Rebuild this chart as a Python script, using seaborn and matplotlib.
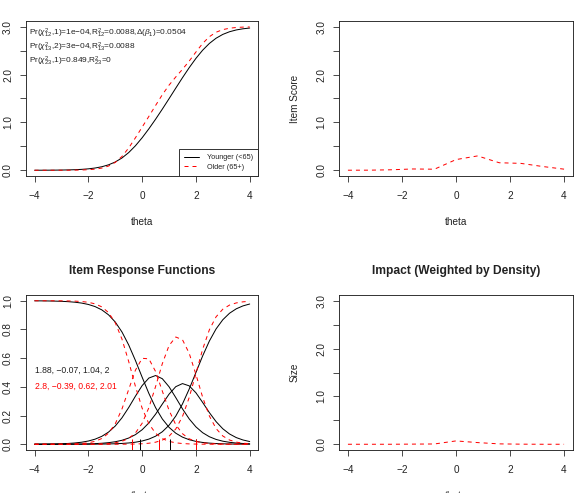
import numpy as np
import pandas as pd
import seaborn as sns
import matplotlib
matplotlib.use("Agg")
import matplotlib.pyplot as plt

# ---------------- data ----------------
theta = [-4, -3.75, -3.5, -3.25, -3, -2.75, -2.5, -2.25, -2, -1.75, -1.5, -1.25,
         -1, -0.75, -0.5, -0.25, 0, 0.25, 0.5, 0.75, 1, 1.25, 1.5, 1.75, 2,
         2.25, 2.5, 2.75, 3, 3.25, 3.5, 3.75, 4]

# cumulative category probabilities P(X >= k), Younger (<65)
young_ge1 = [0.00062, 0.00099, 0.00158, 0.00253, 0.00404, 0.00645, 0.01027, 0.01633,
             0.02588, 0.04078, 0.06369, 0.09815, 0.14831, 0.21789, 0.30831, 0.41629,
             0.53285, 0.64602, 0.7449, 0.8237, 0.88201, 0.92284, 0.95034, 0.96837,
             0.97999, 0.9874, 0.99209, 0.99504, 0.99689, 0.99806, 0.99878, 0.99924, 0.99952]
young_ge2 = [0.00008, 0.00012, 0.0002, 0.00031, 0.0005, 0.00081, 0.00129, 0.00206,
             0.00329, 0.00525, 0.00837, 0.01332, 0.02114, 0.03341, 0.0524, 0.08129,
             0.12401, 0.18468, 0.26595, 0.36698, 0.48121, 0.59746, 0.70366, 0.79164,
             0.85877, 0.90677, 0.93962, 0.96139, 0.97551, 0.98455, 0.99029, 0.99391, 0.99618]
young_ge3 = [0.00001, 0.00002, 0.00003, 0.00005, 0.00008, 0.00013, 0.00021, 0.00034,
             0.00054, 0.00087, 0.00139, 0.00221, 0.00354, 0.00565, 0.00901, 0.01434,
             0.02276, 0.03592, 0.05626, 0.08707, 0.13239, 0.19623, 0.2809, 0.38462,
             0.5, 0.61538, 0.7191, 0.80377, 0.86761, 0.91294, 0.94375, 0.96408, 0.97724]
# cumulative category probabilities P(X >= k), Older (65+)
old_ge1 = [0.00004, 0.00008, 0.00017, 0.00033, 0.00067, 0.00135, 0.00271, 0.00544,
           0.0109, 0.02171, 0.04278, 0.08256, 0.15342, 0.26737, 0.42361, 0.59676,
           0.74877, 0.85717, 0.92358, 0.96053, 0.98, 0.98997, 0.99499, 0.99751,
           0.99876, 0.99938, 0.99969, 0.99985, 0.99992, 0.99996, 0.99998, 0.99999, 0.99999]
old_ge2 = [0.0, 0.0, 0.00001, 0.00002, 0.00004, 0.00008, 0.00016, 0.00032,
           0.00065, 0.00131, 0.00264, 0.00529, 0.0106, 0.02113, 0.04165, 0.08047,
           0.14982, 0.26192, 0.41679, 0.59001, 0.74345, 0.85372, 0.92158, 0.95946,
           0.97945, 0.98969, 0.99485, 0.99744, 0.99873, 0.99937, 0.99969, 0.99984, 0.99992]
old_ge3 = [0.0, 0.0, 0.0, 0.0, 0.0, 0.0, 0.0, 0.0,
           0.00001, 0.00003, 0.00005, 0.00011, 0.00022, 0.00044, 0.00089, 0.00178,
           0.00358, 0.00719, 0.01437, 0.02852, 0.05583, 0.10641, 0.19342, 0.32564,
           0.493, 0.66195, 0.79771, 0.88815, 0.94114, 0.96988, 0.98481, 0.9924, 0.99621]

# item parameters shown in the chart (a, b1, b2, b3)
young_params = [1.88, -0.07, 1.04, 2]
old_params = [2.8, -0.39, 0.62, 2.01]

# difference in item score and impact (coarse grid)
theta_diff = [-4, -3.2, -2.4, -1.6, -0.8, 0, 0.8, 1.6, 2.4, 3.2, 4]
score_diff = [0.001, 0.002, 0.01, 0.027, 0.022, 0.223, 0.3, 0.157, 0.144, 0.079, 0.023]
impact = [0.0, 0.0, 0.0002, 0.003, 0.006, 0.07, 0.035, 0.008, 0.002, 0.0, 0.0]

annot_lines = [
    r"Pr($\chi^2_{12}$,1)=1e$-$04,R$^2_{12}$=0.0088,$\Delta$($\beta_1$)=0.0504",
    r"Pr($\chi^2_{13}$,2)=3e$-$04,R$^2_{13}$=0.0088",
    r"Pr($\chi^2_{23}$,1)=0.849,R$^2_{23}$=0",
]
group_labels = ["Younger (<65)", "Older (65+)"]

# ---------------- derived tables ----------------
def categories(ge1, ge2, ge3):
    g1, g2, g3 = np.array(ge1), np.array(ge2), np.array(ge3)
    return [1 - g1, g1 - g2, g2 - g3, g3], g1 + g2 + g3

young_cat, young_score = categories(young_ge1, young_ge2, young_ge3)
old_cat, old_score = categories(old_ge1, old_ge2, old_ge3)

# ---------------- styling ----------------
sns.set_style("ticks")
plt.rcParams["font.family"] = ["Liberation Sans", "DejaVu Sans"]
plt.rcParams["mathtext.fontset"] = "custom"
plt.rcParams["mathtext.rm"] = "Liberation Sans"
plt.rcParams["mathtext.it"] = "Liberation Sans:italic"
plt.rcParams["mathtext.bf"] = "Liberation Sans:bold"

W, H = 576, 493
fig = plt.figure(figsize=(W / 72, H / 72), dpi=72)
fig.patch.set_facecolor("white")

def add_ax(l, t, r, b):
    return fig.add_axes([l / W, 1 - b / H, (r - l) / W, (b - t) / H])

ax1 = add_ax(26, 21, 258.3, 176)
ax2 = add_ax(339.3, 21, 572.7, 176)
ax3 = add_ax(26, 295, 258.3, 450)
ax4 = add_ax(339.3, 295, 572.7, 450)

TXT = "#222222"
DASH = (0, (4, 4))
LW = 1.0
XLPAD = 16

def style(ax, yticks, ylabels, ylim):
    ax.set_xlim(-4.32, 4.32)
    ax.set_ylim(*ylim)
    ax.set_xticks([-4, -2, 0, 2, 4])
    ax.set_yticks(yticks)
    ax.set_yticklabels(ylabels, rotation=90, va="center")
    ax.tick_params(axis="both", length=6, width=0.8, color="#222222",
                   labelsize=10, labelcolor=TXT)
    ax.tick_params(axis="x", pad=9)
    ax.tick_params(axis="y", pad=7)
    for s in ax.spines.values():
        s.set_visible(True)
        s.set_linewidth(0.9)
        s.set_color("#222222")
    ax.set_xlabel("")
    ax.set_ylabel("")

score_ticks = [0, 0.5, 1, 1.5, 2, 2.5, 3]
score_labels = ["0.0", "", "1.0", "", "2.0", "", "3.0"]

# --- top-left: item true score functions
sns.lineplot(x=theta, y=young_score, ax=ax1, color="black", lw=LW,
             label=group_labels[0])
sns.lineplot(x=theta, y=old_score, ax=ax1, color="red", lw=LW,
             linestyle=DASH, label=group_labels[1])
style(ax1, score_ticks, score_labels, (-0.12, 3.12))
ax1.set_xlabel("theta", fontsize=10, color=TXT, labelpad=XLPAD)
leg = ax1.legend(loc="lower right", fontsize=7.2, frameon=True, fancybox=False,
                 edgecolor="#222222", borderaxespad=0, handlelength=2.0,
                 borderpad=0.75, labelspacing=0.35, handletextpad=1.1)
leg.get_frame().set_linewidth(0.9)
leg.get_frame().set_alpha(1)
for t in leg.get_texts():
    t.set_color(TXT)
for i, line in enumerate(annot_lines):
    ax1.text(0.013, 0.92 - 0.09 * i, line, transform=ax1.transAxes,
             fontsize=8.3, color=TXT, va="center", ha="left")

# --- top-right: difference in item score
sns.lineplot(x=theta_diff, y=score_diff, ax=ax2, color="red", lw=LW, linestyle=DASH)
style(ax2, score_ticks, score_labels, (-0.12, 3.12))
ax2.set_xlabel("theta", fontsize=10, color=TXT, labelpad=XLPAD)
ax2.set_ylabel("Item Score", fontsize=10, color=TXT)
ax2.yaxis.set_label_coords(-0.17, 0.5)

# --- bottom-left: item response functions
for k in range(4):
    sns.lineplot(x=theta, y=young_cat[k], ax=ax3, color="black", lw=LW)
for k in range(4):
    sns.lineplot(x=theta, y=old_cat[k], ax=ax3, color="red", lw=LW, linestyle=DASH)
ax3.vlines(young_params[1:], -0.04, 0.035, color="black", lw=1.0)
ax3.vlines(old_params[1:], -0.04, 0.035, color="red", lw=1.0)
style(ax3, [0, 0.2, 0.4, 0.6, 0.8, 1.0],
      ["0.0", "0.2", "0.4", "0.6", "0.8", "1.0"], (-0.04, 1.04))
ax3.set_title("Item Response Functions", fontsize=12, fontweight="bold",
              color=TXT, pad=21)
ax3.set_xlabel("theta", fontsize=10, color=TXT, labelpad=XLPAD)
ax3.text(0.04, 0.516, ", ".join(str(v) for v in young_params).replace("-", "\u2212"),
         transform=ax3.transAxes, fontsize=8.6, color=TXT, va="center")
ax3.text(0.04, 0.413, ", ".join(str(v) for v in old_params).replace("-", "\u2212"),
         transform=ax3.transAxes, fontsize=8.6, color="red", va="center")

# --- bottom-right: impact
sns.lineplot(x=theta_diff, y=impact, ax=ax4, color="red", lw=LW, linestyle=DASH)
style(ax4, score_ticks, score_labels, (-0.12, 3.12))
ax4.set_title("Impact (Weighted by Density)", fontsize=12, fontweight="bold",
              color=TXT, pad=21)
ax4.set_xlabel("theta", fontsize=10, color=TXT, labelpad=XLPAD)
ax4.set_ylabel("Size", fontsize=10, color=TXT)
ax4.yaxis.set_label_coords(-0.17, 0.5)

fig.savefig("out.png", dpi=72, facecolor="white")
